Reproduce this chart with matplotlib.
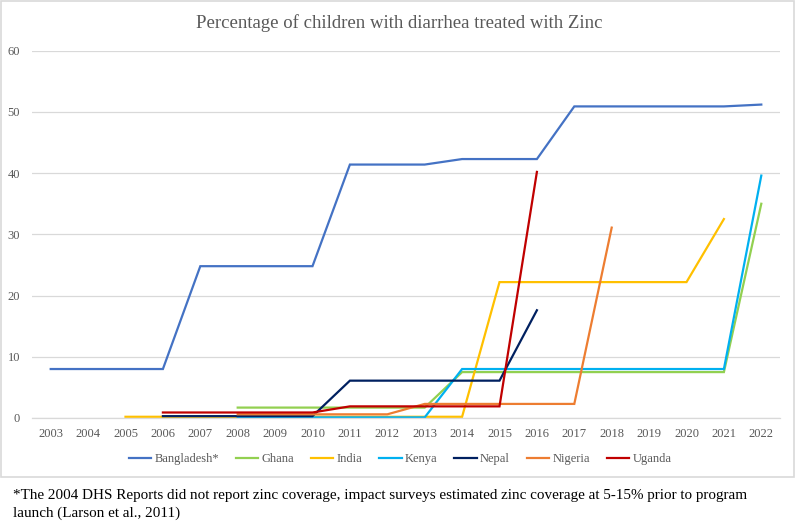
import numpy as np
import matplotlib
matplotlib.use("Agg")
import matplotlib.pyplot as plt
from matplotlib.patches import Rectangle

plt.rcParams['font.family'] = ['Liberation Serif', 'DejaVu Serif']

nan = np.nan
years = [str(y) for y in range(2003, 2023)]

bangladesh = [8.0, 8.0, 8.0, 8.0, 24.8, 24.8, 24.8, 24.8, 41.4, 41.4, 41.4, 42.3, 42.3, 42.3,
              50.9, 50.9, 50.9, 50.9, 50.9, 51.2]
ghana = [nan, nan, nan, nan, nan, 1.7, 1.7, 1.7, 1.7, 1.7, 1.7, 7.5, 7.5, 7.5,
         7.5, 7.5, 7.5, 7.5, 7.5, 35.0]
india = [nan, nan, 0.2, 0.2, 0.2, 0.2, 0.2, 0.2, 0.2, 0.2, 0.2, 0.2, 22.2, 22.2,
         22.2, 22.2, 22.2, 22.2, 32.5, nan]
kenya = [nan, nan, nan, nan, nan, 0.1, 0.1, 0.1, 0.1, 0.1, 0.1, 8.0, 8.0, 8.0,
         8.0, 8.0, 8.0, 8.0, 8.0, 39.6]
nepal = [nan, nan, nan, 0.3, 0.3, 0.3, 0.3, 0.3, 6.1, 6.1, 6.1, 6.1, 6.1, 17.6,
         nan, nan, nan, nan, nan, nan]
nigeria = [nan, nan, nan, nan, nan, 0.6, 0.6, 0.6, 0.6, 0.6, 2.3, 2.3, 2.3, 2.3,
           2.3, 31.1, nan, nan, nan, nan]
uganda = [nan, nan, nan, 0.9, 0.9, 0.9, 0.9, 0.9, 1.9, 1.9, 1.9, 1.9, 1.9, 40.2,
          nan, nan, nan, nan, nan, nan]

series = [
    ("Bangladesh*", bangladesh, "#4472C4"),
    ("Ghana", ghana, "#92D050"),
    ("India", india, "#FFC000"),
    ("Kenya", kenya, "#00B0F0"),
    ("Nepal", nepal, "#002060"),
    ("Nigeria", nigeria, "#ED7D31"),
    ("Uganda", uganda, "#C00000"),
]

W, H = 796, 521
fig = plt.figure(figsize=(W / 100, H / 100), dpi=100)
ax = fig.add_axes([32 / W, 1 - 418 / H, (780 - 32) / W, (418 - 50.7) / H])

x = np.arange(len(years))
for name, vals, col in series:
    ax.plot(x, vals, color=col, lw=1.6, label=name, solid_joinstyle='miter')

ax.set_xlim(-0.5, len(years) - 0.5)
ax.set_ylim(0, 60)
ax.set_yticks(range(0, 61, 10))
ax.set_xticks(x)
ax.set_xticklabels(years)
ax.grid(axis='y', color='#D9D9D9', lw=0.9)
ax.set_axisbelow(True)
for s in ['top', 'right', 'left']:
    ax.spines[s].set_visible(False)
ax.spines['bottom'].set_color('#D9D9D9')
ax.spines['bottom'].set_linewidth(0.9)
ax.tick_params(axis='both', length=0, labelsize=9, labelcolor='#595959')
ax.tick_params(axis='y', pad=8.5)
ax.tick_params(axis='x', pad=7)

fig.text(399 / W, 1 - 23 / H, "Percentage of children with diarrhea treated with Zinc",
         ha='center', va='center', fontsize=13.5, color='#595959')

fig.legend(loc='center', bbox_to_anchor=(400 / W, 1 - 459 / H), ncol=7, frameon=False,
           fontsize=9, labelcolor='#595959', handlelength=1.8, handletextpad=0.25,
           columnspacing=1.35)

fig.patches.append(Rectangle((1 / W, 1 - 477 / H), 793 / W, 476 / H,
                             transform=fig.transFigure, fill=False,
                             edgecolor='#D9D9D9', lw=1.2))

fig.text(13 / W, 1 - 495 / H,
         "*The 2004 DHS Reports did not report zinc coverage, impact surveys estimated zinc coverage at 5-15% prior to program",
         ha='left', va='center', fontsize=10.9, color='black')
fig.text(13 / W, 1 - 513 / H, "launch (Larson et al., 2011)",
         ha='left', va='center', fontsize=10.9, color='black')

fig.savefig("out.png", dpi=100)
